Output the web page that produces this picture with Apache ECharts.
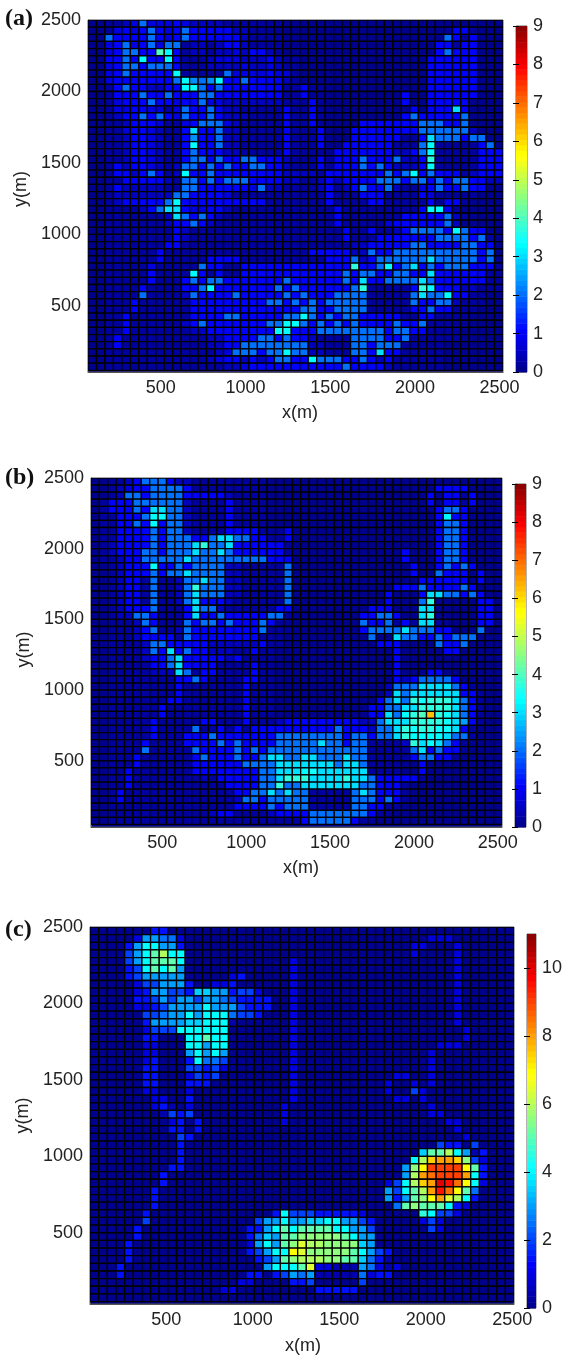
<!DOCTYPE html>
<html><head><meta charset="utf-8">
<style>html,body{margin:0;padding:0;background:#fff}#c{width:565px;height:1358px}</style>
<script src="https://cdn.jsdelivr.net/npm/echarts@6/dist/echarts.min.js"></script>
</head><body><div id="c"></div>
<script>
// Cell levels: one string per row (top row = y 2500), 49 cells, base-36 digit.
// Panels (a),(b): value = digit * 0.25.  Panel (c): value = digit * 0.5.
const rowsA = [
"0011238 3334322 2211111 1100000 0000000 0000000 0000000",
"0013434 8434844 4442211 1100000 0000000 0000000 1441000",
"0084444 8434844 4444211 1100000 0000000 0000000 8414000",
"0034834 8388122 1244211 1100000 0000000 0000004 4144000",
"0034884 4gd4122 1223244 2100000 0000000 0000004 8444000",
"004484d 44d4111 2333222 4211000 0000000 0000044 4444000",
"0034884 8884111 2222322 3211000 0000000 0000044 4444000",
"0034844 444d111 1183333 4331000 0000000 0000044 4444000",
"0034444 4448d98 9d44844 4421000 0000000 0000044 4444000",
"0014844 2244dd8 4844444 4411411 0000000 0000044 4444000",
"0014448 4484448 8444444 4411411 0000000 0040044 4444000",
"0013444 8443448 3322222 2211141 0000000 0040044 4440000",
"0013344 3313844 8422111 1141141 0000000 0004044 4c40000",
"0012448 4843844 8422211 1141141 0000000 0048444 4480000",
"0011244 4311348 8832111 1141141 0000444 4444888 4480000",
"0011344 32114c4 4822111 1141114 0004444 4444888 8882000",
"0011244 3211494 4822111 1141114 0004444 44114c8 8848800",
"0011244 32114d4 4822111 1141114 0044444 41118d1 1111480",
"0011244 3211484 4422111 1141111 0444444 42248d1 1111444",
"0011244 3211488 4844884 4421114 1444844 48224f1 1111444",
"0014244 3212884 8484488 4421114 1444848 42224d1 1111444",
"0014424 8412d44 8444444 4422221 4444444 848d484 4412444",
"0011444 4421884 8488844 4422112 4244448 8848848 4884422",
"0014222 2211884 4444438 2211112 4124844 8211348 4484400",
"0012222 2228844 4431111 1111111 4111444 1111431 1111000",
"0012444 448d444 4444444 1111111 4111144 1111140 4410000",
"0011112 48cc433 4421111 1111111 1411111 11114dd 4100000",
"0011111 112c848 4211111 1111111 1411111 1144444 8210000",
"0011111 1124484 2111111 1111111 1411111 3444444 8200000",
"0011111 1114211 1111111 1111111 1141141 1248888 4d84400",
"0011111 1114211 1111111 1111111 1141114 4444448 8884810",
"0011111 1144111 1111111 1111111 1112244 4448844 4488440",
"0011111 1411111 1111111 1111144 4442284 4888888 8888480",
"0011111 1411111 4444111 1111111 4448248 88888c8 8888480",
"0011111 3111118 4411444 4444444 444f448 d48c484 8884441",
"0011111 41111d4 1411444 4444444 4484884 48844c4 4444411",
"0011111 4111484 8844444 4484444 4484c44 8888c84 4444411",
"0011114 1111448 d444444 4848444 4448f11 1114fd4 4422111",
"0011118 1111284 4448444 4484844 4888811 1118c88 d441100",
"0011141 1111144 4444444 8848484 8888811 1118448 8211100",
"0011141 1111144 4444444 4444884 4888811 1114484 4111000",
"0011411 1111144 4488444 4488d84 8488444 4411441 1110000",
"0011411 1111248 4444444 88dd848 4848444 4844811 1110000",
"0011411 1111122 4444444 4dd4448 8888888 4884411 1100000",
"0014111 1111111 2244448 8484421 1118888 4481111 1100000",
"0014111 1111111 2244888 8888822 1118848 8811111 0000000",
"0011111 1111111 1238884 88d8822 111884c 4411111 0000000",
"0011111 1111111 2344242 48844d8 8844842 4111111 0000000",
"0011111 1111111 1122344 4444444 4484444 2111111 0000000"
];
const rowsB = [
"0011248 8842211 1111111 0000000 0000000 0000000 0000000",
"0012344 8888411 1111110 0000000 0000000 0000004 4440000",
"0012884 8888444 4421111 0000000 0000000 0000040 4414000",
"0144488 8888211 1141111 0000000 0000000 0000040 4414000",
"0144484 cc88211 1141111 0000000 0000000 0000004 8840000",
"0114448 dd88211 1141111 0000000 0000000 0000004 d440000",
"0114484 d488211 1141111 0000000 0000000 0000004 8840000",
"0114444 8488211 1144441 1140000 0000000 0000004 8840000",
"0114444 8488844 8cc8844 1140000 0000000 0000004 8840000",
"0124444 84888cf 88c4444 4410000 0000000 0000004 8840000",
"0124448 84888c8 8c84444 4410000 0000000 0040004 8840000",
"0112448 8888c88 8888888 4440000 0000000 0040004 8840000",
"0012444 d448488 8822111 1180000 0000000 0004004 8484000",
"0012444 8488c88 8822111 1180000 0000000 0004008 4440400",
"0012441 811288c 8822111 1180000 0000000 0000444 4440400",
"0012441 81128f8 8822111 1180000 0000000 0444844 4484000",
"0012441 81128c8 8822111 1180000 0000000 40004cc 8848400",
"0012441 81128c4 4421111 1180000 0000000 40008f0 0000440",
"0012444 81114c8 8211111 1440000 0000044 4000cc0 0000440",
"0012288 41114c4 4844444 8810000 0000448 8400cf0 0000440",
"0011128 4111848 8484448 4110000 0000844 8141cc1 0000440",
"0011124 8112844 4444448 1110000 0000488 88c8884 4000800",
"0011124 4441844 4444441 1100000 0000080 0c88448 4888000",
"0011112 8844444 2222224 1100000 0000004 4400008 4480000",
"0011112 84c4844 2221141 1000000 0000000 0400000 4400000",
"0011112 448c444 4424111 1000000 0000000 0400000 0000000",
"0011111 448c444 4111141 1000000 0000000 0400000 0000000",
"0011111 222c814 4111141 1000000 0000000 0400044 0000000",
"0011111 1114484 1111441 1000000 0000000 0424888 8400000",
"0011111 1114111 1111411 1000000 0000000 2888ccc c841000",
"0011111 1114111 1111411 1000000 0000000 2c8cccc cc44100",
"0011111 1144111 1111411 1000000 0000004 8c8feff fc84100",
"0011111 1411111 1111411 1000000 0000044 88ccfff fc84100",
"0011111 1411111 1111411 1000000 0000044 c8dfgpf ec84100",
"0011111 4111114 4111411 1244444 4444228 cccffff eca4100",
"0011111 4111181 1414144 4444444 4844428 8cfeffe ec41000",
"0011111 4111444 8444444 4888888 8848848 8cfdddd c881000",
"0011114 1111444 4848444 488888c 8848811 112fcdc 8410000",
"0011118 1111184 4448484 8888888 8888811 1118c48 4410000",
"0011141 1111148 4448448 cc88cc8 88c8811 1114884 4100000",
"0011141 1111144 4444888 8cccccc c8cc811 1100400 0000000",
"0011411 1111144 4444448 8cccdec ccccc11 1100400 0000000",
"0011411 1111112 1444448 8cfffcc ccfcc84 4444100 0000000",
"0011411 1111111 1144448 8f88ccc cccc884 4410000 0000000",
"0014111 1111111 1114488 c8c8811 1118c84 4410000 0000000",
"0014111 1111111 1112884 8888811 1118884 8410000 0000000",
"0011111 1111111 1114444 8488811 1118844 1100000 0000000",
"0011111 1111111 2441111 2444488 8888841 1000000 0000000",
"0011111 1111111 1111111 1111488 8884110 0000000 0000000"
];
const rowsC = [
"0000000 3300000 0000000 0000000 0000000 0000000 0000000",
"0000026 6552000 0000000 0000000 0000000 0000222 0000000",
"0000368 8663000 0000000 0000000 0000000 0022000 2000000",
"0000468 ac88000 0000000 0000000 0000000 0020000 2000000",
"0000468 aaa8000 0000000 0020000 0000000 0000000 2000000",
"0000348 a8a6000 0000000 0020000 0000000 0000000 2000000",
"0000346 6666000 0023000 0020000 0000000 0000000 2000000",
"0000024 4666300 2230000 0020000 0000000 0000000 2000000",
"0000023 6644377 6634420 0020000 0000000 0000000 2000000",
"0000033 4646646 6543333 0020000 0000000 0000000 2000000",
"0000022 3466668 6664333 0020000 0000000 0000000 2000000",
"0000004 4566868 8854430 0020000 0000000 0000000 2000000",
"0000003 6666778 8810000 0020000 0000000 0000000 2000000",
"0000002 4448888 8800000 0020000 0000000 0000000 0200000",
"0000003 300088a 8800000 0020000 0000000 0000000 0200000",
"0000002 2000886 8800000 0020000 0000000 0000022 2000000",
"0000002 2000686 8600000 0020000 0000000 0000200 0000000",
"0000002 3000385 5400000 0020000 0000000 0000200 0000000",
"0000003 3000443 4200000 0020000 0000000 0000200 0000000",
"0000003 3000243 4000000 0020000 0000000 2200200 0000000",
"0000003 3000333 0000000 0020000 0000002 0020200 0000000",
"0000002 2000200 0000000 0020000 0000002 0042000 0000000",
"0000000 2200300 0000000 0020000 0000000 2202000 0000000",
"0000000 2310200 0000000 0200000 0000000 0000200 0000000",
"0000000 0143400 0000000 0200000 0000000 0000220 0000000",
"0000000 0023030 0000000 0200000 0000000 0000002 2000000",
"0000000 0033030 0000000 0000000 0000000 0000000 2000000",
"0000000 0004300 0000000 0000000 0000000 0000000 0200000",
"0000000 0003000 0000000 0000000 0000000 0000043 3040000",
"0000000 0003000 0000000 0000000 0000000 0007aac 8613000",
"0000000 0003000 0000000 0000000 0000000 008cfgg fb42000",
"0000000 0033000 0000000 0000000 0000000 06beiii iea3000",
"0000000 0300000 0000000 0000000 0000000 06cghii ig83000",
"0000000 0300000 0000000 0000000 0000002 48cfgkj he82000",
"0000000 3000000 0000000 0000000 0000006 48acgjh ea50000",
"0000000 3000000 0000000 0000000 0000006 36abegd c830000",
"0000000 3000000 0000000 0000000 0000000 5abaaa8 3200000",
"0000003 0000000 0000000 3844433 3332000 0009844 2000000",
"0000004 0000000 0000046 6866778 8664300 0002420 0000000",
"0000030 0000000 0000336 8a8aaaa 8866400 0000420 0000000",
"0000030 0000000 0000357 6aabbbb ba86600 0000000 0000000",
"0000300 0000000 0000268 6abdccb bbb7600 0000000 0000000",
"0000300 0000000 0000346 88edbbb bba8643 0000000 0000000",
"0000300 0000000 0000034 6abcccb baa7531 0000000 0000000",
"0003000 0000000 0000006 888ad22 1116521 2000000 0000000",
"0003000 0000000 0000330 3465611 1115233 0000000 0000000",
"0000000 0000000 0002200 0033400 0004000 0000000 0000000",
"0000000 0000000 0220000 0000033 3330000 0000000 0000000",
"0000000 0000000 0000000 0000000 0000000 0000000 0000000"
];
const xTickValues = [500, 1000, 1500, 2000, 2500];
const yTickValues = [500, 1000, 1500, 2000, 2500];
const barTicksAB = [0,1,2,3,4,5,6,7,8,9];
const barTicksC = [0,2,4,6,8,10];
const panelNames = ['(a)', '(b)', '(c)'];

const panels = [
 {rows:rowsA, unit:.25, max:9,  xMin:70, yMin:38, name:0, g:{left:88,top:20,width:415,height:352}, b:{left:516,top:26,width:11,height:346}, titleTop:7, titleLeft:5, xGap:32, xnp:9, yPad:14},
 {rows:rowsB, unit:.25, max:9,  xMin:75, yMin:32, name:1, g:{left:91,top:478,width:411,height:349}, b:{left:515,top:484,width:11,height:343}, titleTop:466, titleLeft:5, xGap:32, xnp:9, yPad:6},
 {rows:rowsC, unit:.5,  max:11, xMin:60, yMin:34, name:2, g:{left:90,top:927,width:424,height:377}, b:{left:527,top:934,width:13,height:374}, titleTop:918, titleLeft:5, xGap:33, xnp:2, yPad:0}
];

function jet(v,max){
  let i=Math.min(63,Math.floor(v/max*64));
  const cl=x=>Math.max(0,Math.min(1,x));
  const b=cl(i<=7?(i+9)/16:(40-i)/16), g=cl(i<=23?(i-7)/16:(56-i)/16), r=cl(i<=39?(i-23)/16:(72-i)/16);
  return 'rgb('+Math.round(r*255)+','+Math.round(g*255)+','+Math.round(b*255)+')';
}
const font='"Liberation Sans",Arial,sans-serif', ink='#222';
const plain=v=>String(v);
const grid=[],xAxis=[],yAxis=[],series=[],title=[];
panels.forEach((p,k)=>{
  const gi=grid.length, xi=xAxis.length, yi=yAxis.length;
  grid.push(Object.assign({show:true,borderColor:'#555',borderWidth:1,backgroundColor:'#00008f',containLabel:false},p.g));
  xAxis.push({type:'value',gridIndex:gi,min:p.xMin,max:p.xMin+2450,position:'bottom',splitLine:{show:false},
    axisLine:{show:true,onZero:false,lineStyle:{color:'#555'}},
    axisTick:{show:false,customValues:xTickValues},
    axisLabel:{customValues:xTickValues,formatter:plain,margin:7,fontSize:18,fontFamily:font,color:ink},
    name:'x(m)',nameLocation:'middle',nameGap:p.xGap,nameTextStyle:{fontSize:18,fontFamily:font,color:ink,padding:[0,0,0,p.xnp]}});
  yAxis.push({type:'value',gridIndex:gi,min:p.yMin,max:2500,position:'left',splitLine:{show:false},
    axisLine:{show:true,onZero:false,lineStyle:{color:'#555'}},
    axisTick:{show:false,customValues:yTickValues},
    axisLabel:{customValues:yTickValues,formatter:plain,margin:7,fontSize:18,fontFamily:font,color:ink},
    name:'y(m)',nameLocation:'middle',nameGap:54,nameTextStyle:{fontSize:18,fontFamily:font,color:ink,padding:[0,0,0,p.yPad]}});
  const data=[];
  p.rows.forEach((s,r)=>{
    const row=s.replace(/ /g,'').padEnd(49,'0');
    for(let c=0;c<49;c++) data.push([p.xMin+50*c,2500-50*r,parseInt(row[c],36)*p.unit]);
  });
  series.push({type:'custom',xAxisIndex:xi,yAxisIndex:yi,clip:true,silent:true,animation:false,data,
    encode:{x:0,y:1},
    renderItem(params,api){
      const a=api.coord([api.value(0),api.value(1)]), b=api.coord([api.value(0)+50,api.value(1)-50]);
      return {type:'rect',shape:{x:a[0],y:a[1],width:b[0]-a[0],height:b[1]-a[1]},
        style:{fill:jet(api.value(2),p.max),stroke:'#000',lineWidth:1.3}};
    }});
  // colour bar
  const bi=grid.length, bx=xAxis.length, by=yAxis.length, ticks=p.max===9?barTicksAB:barTicksC;
  grid.push(Object.assign({show:true,borderColor:'#666',borderWidth:1,containLabel:false},p.b));
  xAxis.push({type:'value',gridIndex:bi,min:0,max:1,show:false});
  yAxis.push({type:'value',gridIndex:bi,min:0,max:p.max,interval:k===2?2:1,position:'right',z:10,splitLine:{show:false},
    axisLine:{show:false},axisTick:{show:true,inside:true,length:3,lineStyle:{color:'#000'},customValues:ticks},
    axisLabel:{customValues:ticks,formatter:plain,margin:6,fontSize:18,fontFamily:font,color:ink}});
  yAxis.push({type:'value',gridIndex:bi,min:0,max:p.max,interval:k===2?2:1,position:'left',z:10,splitLine:{show:false},
    axisLine:{show:false},axisLabel:{show:false},axisTick:{show:true,inside:true,length:3,lineStyle:{color:'#000'},customValues:ticks}});
  const levels=[];for(let i=0;i<64;i++)levels.push([i*p.max/64,(i+1)*p.max/64]);
  series.push({type:'custom',xAxisIndex:bx,yAxisIndex:by,silent:true,animation:false,data:levels,
    encode:{y:[0,1]},
    renderItem(params,api){
      const a=api.coord([0,api.value(1)]), b=api.coord([1,api.value(0)]);
      return {type:'rect',shape:{x:a[0],y:a[1],width:b[0]-a[0],height:b[1]-a[1]+0.5},
        style:{fill:jet(api.value(0)+1e-6,p.max),stroke:null}};
    }});
  title.push({text:panelNames[p.name],left:p.titleLeft,top:p.titleTop,padding:0,
    textStyle:{fontFamily:'"Liberation Serif",serif',fontWeight:'bold',fontSize:24,color:'#111'}});
});
const chart=echarts.init(document.getElementById('c'),null,{renderer:'canvas'});
chart.setOption({animation:false,backgroundColor:'#fff',title,grid,xAxis,yAxis,series});
</script></body></html>
